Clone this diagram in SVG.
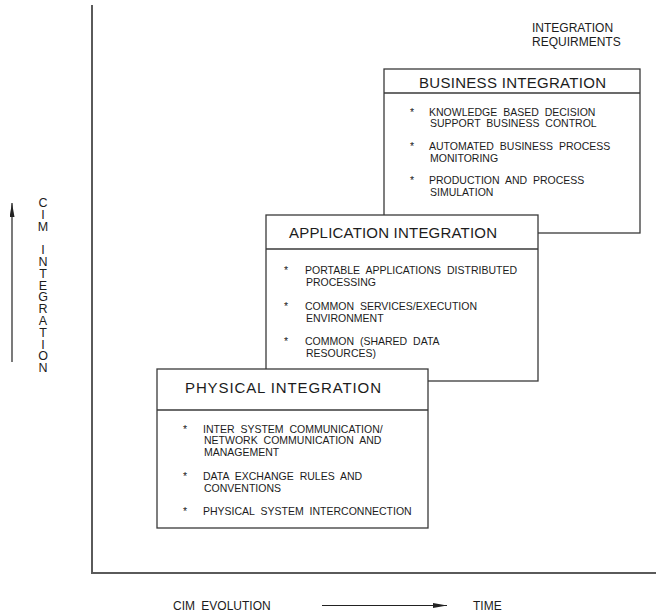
<svg xmlns="http://www.w3.org/2000/svg" width="656" height="616" viewBox="0 0 656 616">
  <defs>
    <marker id="head" viewBox="0 0 14 5" refX="14" refY="2.5" markerWidth="14" markerHeight="5" markerUnits="userSpaceOnUse" orient="auto">
      <path d="M0,0 L14,2.5 L0,5 Z" fill="#222"/>
    </marker>
    <style>
      text { font-family: "Liberation Sans", Arial, sans-serif; fill: #1c1c1c; }
      .axis { stroke: #5a5a5a; stroke-width: 2; fill: none; }
      .box { fill: #fff; stroke: #3a3a3a; stroke-width: 1.3; }
      .sep { stroke: #3a3a3a; stroke-width: 1.3; }
      .head { font-size: 15px; }
      .item { font-size: 10.5px; word-spacing: 3px; }
      .label { font-size: 12px; word-spacing: 3px; }
      .vert { font-size: 12.5px; writing-mode: vertical-rl; text-orientation: upright; letter-spacing: -2.2px; }
      .arrow { stroke: #222; stroke-width: 1.2; fill: none; marker-end: url(#head); }
    </style>
  </defs>
  <rect width="656" height="616" fill="#fff"/>

  <!-- axes -->
  <g id="axes">
    <line class="axis" x1="92" y1="5" x2="92" y2="573"/>
    <line class="axis" x1="91" y1="573" x2="656" y2="573"/>
  </g>

  <!-- axis labels -->
  <g id="top-label">
    <text class="label" x="532" y="32">INTEGRATION</text>
    <text class="label" x="532" y="46">REQUIRMENTS</text>
  </g>

  <!-- vertical axis title, letters stacked upright -->
  <g id="y-label">
    <text class="vert" x="43" y="196">CIM INTEGRATION</text>
  </g>

  <g id="x-label">
    <text class="label" x="173" y="610">CIM EVOLUTION</text>
    <text class="label" x="473" y="610">TIME</text>
  </g>

  <!-- connectors -->
  <g id="connectors">
    <line class="arrow" x1="12" y1="362" x2="12" y2="203"/>
    <line class="arrow" x1="322" y1="605.5" x2="447" y2="605.5"/>
  </g>

  <!-- stacked integration levels, later boxes overlap earlier ones -->
  <g id="business-integration">
    <rect class="box" x="384" y="69" width="256" height="164"/>
    <line class="sep" x1="384" y1="93" x2="640" y2="93"/>
    <text class="head" x="419" y="88" textLength="187" lengthAdjust="spacing">BUSINESS INTEGRATION</text>
    <text class="item" x="410" y="116">*</text>
    <text class="item" x="429" y="116">KNOWLEDGE BASED DECISION</text>
    <text class="item" x="430" y="127">SUPPORT BUSINESS CONTROL</text>
    <text class="item" x="410" y="150">*</text>
    <text class="item" x="429" y="150">AUTOMATED BUSINESS PROCESS</text>
    <text class="item" x="430" y="162">MONITORING</text>
    <text class="item" x="410" y="184">*</text>
    <text class="item" x="429" y="184">PRODUCTION AND PROCESS</text>
    <text class="item" x="430" y="196">SIMULATION</text>
  </g>

  <g id="application-integration">
    <rect class="box" x="266" y="215" width="272" height="166"/>
    <line class="sep" x1="266" y1="249" x2="538" y2="249"/>
    <text class="head" x="289" y="238" textLength="208" lengthAdjust="spacing">APPLICATION INTEGRATION</text>
    <text class="item" x="284" y="274">*</text>
    <text class="item" x="305" y="274">PORTABLE APPLICATIONS DISTRIBUTED</text>
    <text class="item" x="306" y="286">PROCESSING</text>
    <text class="item" x="284" y="310">*</text>
    <text class="item" x="305" y="310">COMMON SERVICES/EXECUTION</text>
    <text class="item" x="306" y="322">ENVIRONMENT</text>
    <text class="item" x="284" y="345">*</text>
    <text class="item" x="305" y="345">COMMON (SHARED DATA</text>
    <text class="item" x="306" y="357">RESOURCES)</text>
  </g>

  <g id="physical-integration">
    <rect class="box" x="157" y="369" width="271" height="159"/>
    <line class="sep" x1="157" y1="410" x2="428" y2="410"/>
    <text class="head" x="185" y="393" textLength="196" lengthAdjust="spacing">PHYSICAL INTEGRATION</text>
    <text class="item" x="183" y="433">*</text>
    <text class="item" x="203" y="433">INTER SYSTEM COMMUNICATION/</text>
    <text class="item" x="204" y="444">NETWORK COMMUNICATION AND</text>
    <text class="item" x="204" y="456">MANAGEMENT</text>
    <text class="item" x="183" y="480">*</text>
    <text class="item" x="203" y="480">DATA EXCHANGE RULES AND</text>
    <text class="item" x="204" y="492">CONVENTIONS</text>
    <text class="item" x="183" y="515">*</text>
    <text class="item" x="203" y="515">PHYSICAL SYSTEM INTERCONNECTION</text>
  </g>
</svg>
